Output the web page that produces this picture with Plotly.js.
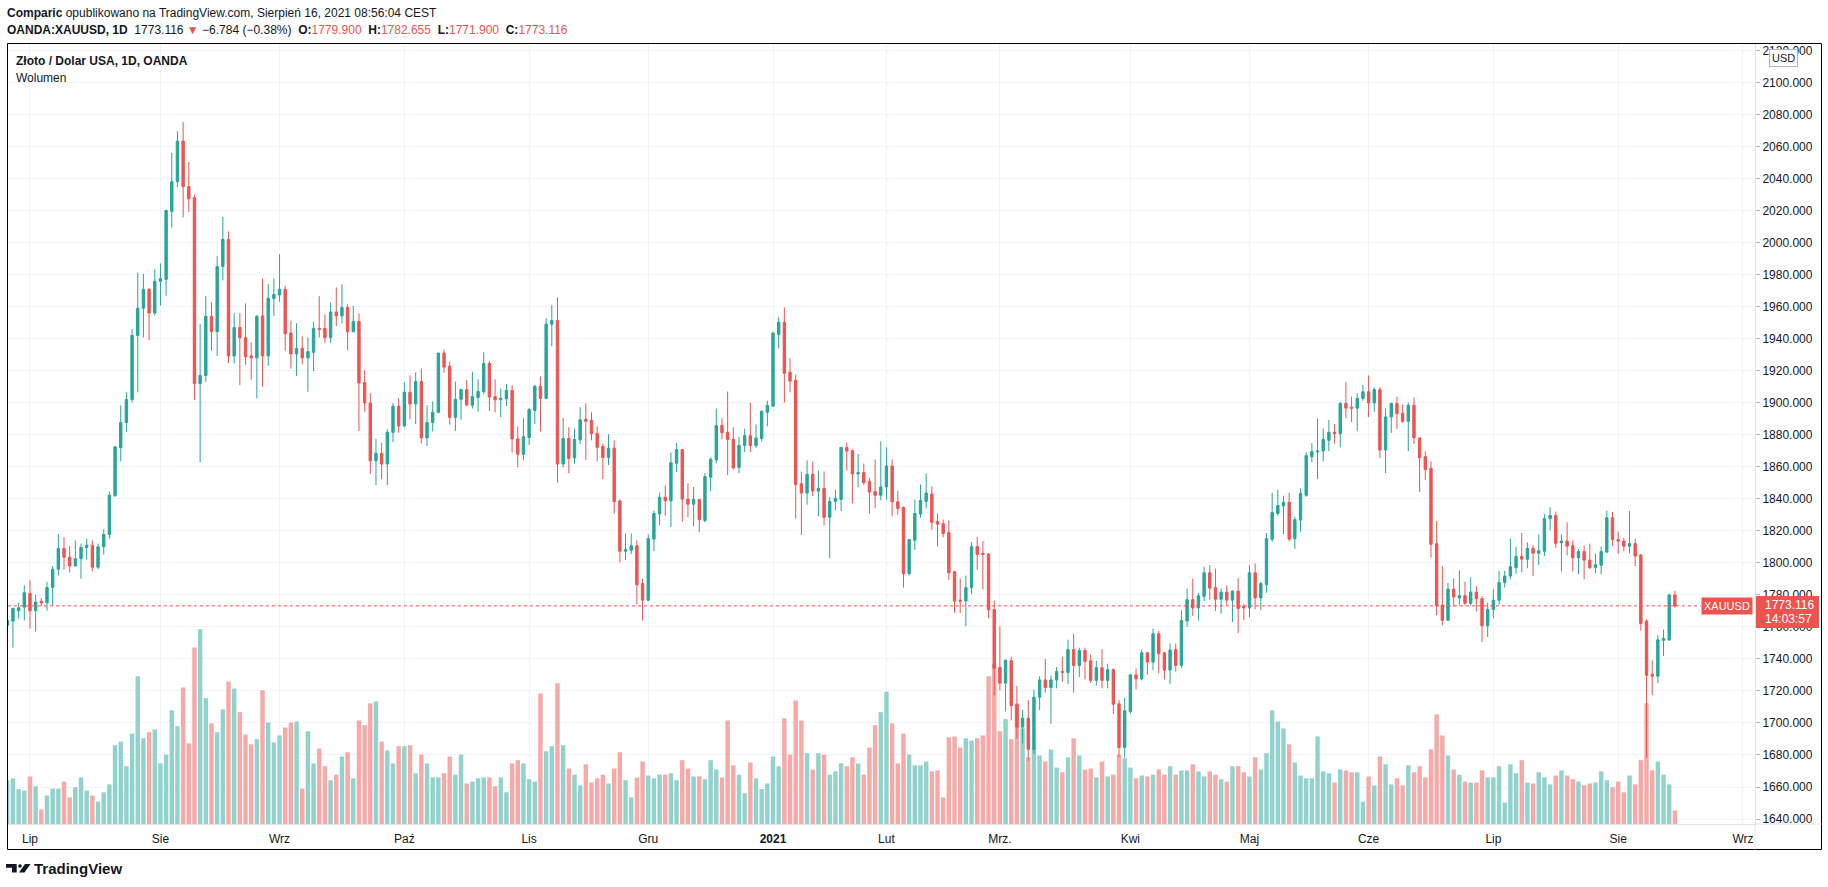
<!DOCTYPE html>
<html><head><meta charset="utf-8">
<script src="https://cdn.plot.ly/plotly-3.0.1.min.js"></script>
<style>html,body{margin:0;padding:0;background:#fff;}#chart{width:1828px;height:887px;}</style>
</head><body><div id="chart"></div>
<script>
// Trading calendar (weekdays from start, minus market holidays)
const startDate = '2020-06-25';
const holidays = ['2020-12-25', '2021-01-01', '2021-04-02'];

const open = [1761,1763.6,1770,1772.3,1781,1770,1776,1775,1784.6,1796,1809,1803.5,1798,1802.6,1809.6,1811,1797.3,1810,1817.7,1842,1872,1887.6,1902,1942,1959,1970.8,1956,1975.8,1977,2019.5,2038,2063.4,2035,2028,1912,1917,1954,1944.3,1985,2002,1929.2,1947,1940.6,1929.2,1928,
1954.2,1929.2,1965,1967.3,1970.8,1943.5,1930.4,1934,1928,1931.5,1946.4,1946.4,1940.6,1956.6,1954.2,1959.5,1944.3,1950.7,1912.6,1899.8,1863.7,1868.4,1861.7,1881.5,1897.8,1885.5,1906.5,1899.2,1913.2,1878,1887.6,1894,1931,1922.8,1890.8,1902.1,1908.2,1898.4,1903.2,1906.8,1924.5,1903.8,1901.8,1902.4,
1907.7,1877.4,1867.8,1878.2,1895.1,1910.3,1902.7,1949,1951.3,1861.7,1877.7,1865.5,1876.8,1889.6,1889,1880.9,1872.7,1865.7,1871.6,1838.7,1807.2,1807.8,1810.7,1787.1,1776.7,1814.8,1830.5,1841,1838.7,1862.2,1870.7,1839.8,1836.6,1839.5,1826.4,1853.5,1864.3,1885.8,1881.5,1877.1,1859.6,1873.3,1879.4,1873.3,
1877.7,1894,1897.8,1942.6,1950.2,1919,1914,1849.4,1843.6,1855.3,1844.8,1846.5,1828.5,1838.4,1839.5,1872.1,1870,1855.5,1856.4,1850.9,1844.5,1842.2,1847.4,1860.5,1838.1,1834.6,1793.2,1814.1,1830.5,1838.4,1843,1825.9,1824.4,1818.9,1794.4,1776.7,1776.1,1784.5,1810.1,1806,1805.5,1770.8,1734.7,1724.8,
1738.8,1711.4,1697.4,1703,1683.5,1716.1,1726.9,1722.2,1726.9,1732.1,1731.5,1745.8,1735.9,1745.2,1738.8,1726.6,1734.5,1726.6,1733.3,1712,1684.7,1707.1,1730,1727.5,1743.8,1738,1755.7,1743.8,1733,1745.8,1735.9,1763.6,1777,1771.8,1779.1,1793.8,1784.5,1777.3,1781.7,1776.7,1782.3,1772.7,1771.8,1793.8,
1778.1,1786.3,1814.8,1830.8,1835.5,1837.8,1815.1,1826.7,1842.2,1866.3,1869.2,1869.8,1876.5,1881.5,1880.6,1899.5,1897.2,1896.6,1902.7,1906.8,1899.8,1908.2,1870.4,1891.1,1899.5,1893.4,1888.4,1898.4,1878,1866.3,1859,1811.9,1773.7,1764.1,1783.6,1778.1,1779.4,1774.7,1781.7,1777.6,1760.7,1770.8,1776.7,1787.7,
1791.8,1797,1804,1802.3,1809,1806,1807.2,1827.6,1829.6,1812.5,1813.6,1810.7,1803.2,1807,1801.7,1797,1798.5,1806.7,1828.2,1814.5,1813.6,1810.4,1812,1804.9,1763.6,1730.4,1729.2,1751.6,1751.9,1779.9];

const high = [1766,1772,1775,1786,1789,1780,1778,1788,1798,1818,1816,1810.4,1814,1812,1815,1814,1812,1821,1844.5,1873,1898.4,1906.5,1946,1981.3,1980.4,1971.7,1983.4,1987,2020.6,2056,2069.5,2075.3,2050.3,2030,1949.3,1966.5,1963,1991.5,2016,2007,1955.7,1956,1962,1937.6,1954.8,
1977.5,1974,1977.5,1992.7,1973,1951.3,1949.6,1941.4,1940.8,1950.7,1966.5,1955.1,1962.7,1972,1974,1961.5,1960.6,1955.7,1920.2,1905.9,1877.4,1875,1883.5,1899.8,1902.7,1912.9,1917,1919,1921.3,1898.4,1900.7,1931,1933.3,1925.7,1913.2,1908.8,1914.1,1919.3,1914.6,1931.5,1926,1914.6,1908.8,1911.7,
1910.9,1885.2,1890.2,1896.6,1910.9,1916.4,1952.8,1961,1965.9,1890.5,1884.7,1883.8,1897.2,1899.5,1894,1885.2,1874.5,1880.3,1876.5,1839.5,1818.3,1818.3,1814,1790.1,1817.7,1832.6,1843.9,1848.3,1868.9,1874.8,1870.7,1849.7,1847.4,1839.5,1856.1,1866,1896.3,1890.2,1907,1884.7,1878.8,1883.8,1900,1886.4,
1895.2,1901.2,1944.3,1953.4,1959.5,1927.7,1917.6,1857,1864,1863.4,1857.6,1857,1841,1845.7,1872.1,1875,1870.7,1868,1862,1853.2,1864.6,1875.9,1872.1,1864.6,1845,1835.2,1815,1839.5,1848.9,1855.8,1847.7,1830.8,1827,1826.4,1795,1790.3,1792,1813,1816.3,1813.6,1806,1776.4,1760.4,1739.7,
1741.4,1723.1,1708.2,1714.4,1720.8,1729.2,1740,1729.5,1735,1741.4,1752,1755.7,1747,1747,1742.8,1738.8,1746.1,1737,1734,1714.4,1715.8,1730.7,1734,1745.8,1744.4,1758.9,1757.4,1744.4,1749.6,1749.6,1770.3,1784,1790,1781.2,1797.6,1798.5,1796.4,1784,1785.8,1782.9,1790.4,1774.2,1798.5,1799.6,
1788.2,1818.6,1843.6,1845.7,1841.9,1843.9,1828.8,1846.5,1869,1874.8,1889.9,1883.8,1889.3,1886.7,1900.4,1912.9,1903.8,1905.9,1911.2,1917,1909.7,1909.7,1896.3,1900,1903.8,1898.9,1900,1903.3,1878,1869.5,1863.4,1826.1,1797.9,1787.4,1790.3,1795.3,1788.2,1790.9,1785.5,1779.1,1775,1783.6,1795,1795,
1815.1,1810.1,1818.6,1812.8,1811,1817.7,1830.5,1834.6,1832,1817.7,1825.3,1814,1808.7,1810.7,1812,1805.8,1810.1,1832.6,1831.8,1819.5,1815.7,1832.3,1815.1,1805.5,1764.7,1739.1,1754.8,1758.3,1780.7,1782.655];

const low = [1757,1747,1765,1764,1759,1757,1773,1770,1773,1792,1795.6,1794,1798,1790,1802,1794.7,1796,1805,1815,1841,1863.4,1881.7,1900,1906.5,1940.8,1939,1954.5,1960.6,1966.8,2009.3,2034.6,2015.7,2019.2,1901.8,1862.8,1913,1932.4,1929.2,1976.4,1924.8,1924.5,1911,1923.7,1914.4,1902.7,
1910,1923,1954.2,1963,1932.4,1921.3,1916.7,1924,1906.8,1919.6,1940.8,1937.4,1937.4,1947.8,1949.6,1932.7,1944.3,1882.3,1894.3,1855.5,1848.6,1852.3,1848.6,1875.3,1881.2,1884.7,1889.6,1886.7,1874.5,1873,1882,1893.4,1918.7,1886.4,1882.3,1889.3,1897.8,1896.3,1894.3,1905.3,1894.9,1894,1891,1898,
1868.9,1859.6,1864,1873.6,1886.7,1882,1902.1,1935.3,1850,1859.6,1856,1861.9,1874.2,1864.3,1876.5,1863.4,1852.3,1861.1,1830.8,1800.2,1801.7,1805.5,1774,1764,1776.1,1807.2,1823.5,1829.4,1822.4,1856.7,1825.6,1828.5,1822.7,1819.2,1825.3,1844.8,1862,1877.1,1854.7,1858.2,1856,1869.2,1869.2,1871.8,
1875.7,1885.2,1897.8,1933.9,1900,1906.5,1827.6,1817.4,1836.3,1841.6,1829,1823.5,1802.9,1832.8,1832.3,1857.6,1837.2,1847.1,1848.6,1830.8,1834,1839,1839.3,1829,1830,1784.5,1792,1808,1828.2,1834,1820.6,1810.1,1816,1789.2,1768.8,1768.5,1760.4,1780.4,1795.6,1783.3,1765.3,1717.3,1720.2,1707.1,
1701.6,1690,1687,1676.5,1680.6,1708,1719,1699.5,1721.6,1725.7,1724.2,1719,1728.6,1727.2,1724.8,1723.4,1721.6,1721.6,1705.4,1678.8,1678.2,1705.6,1721,1726.6,1730,1733,1731,1727.2,1724.2,1732.1,1734.2,1760,1766.8,1763.9,1776.1,1777,1769.9,1768.2,1773.5,1763,1756,1764.2,1766,1771,
1770.3,1781.3,1813,1829.4,1818,1813.3,1808.7,1819.5,1841.3,1862.8,1852.3,1863.4,1869.8,1874.5,1872.1,1890.2,1887.9,1882.3,1901.2,1891,1894.3,1865.5,1856.1,1881.2,1883.5,1887.3,1869.8,1874.2,1844.2,1851.8,1803.4,1767.3,1760.9,1764.1,1772.6,1773.2,1773.5,1773.2,1769.6,1750.5,1753.7,1765.3,1774,1784.5,
1789.7,1793.2,1794.1,1796.7,1791.8,1798.5,1804.3,1820.3,1809.3,1794.7,1804.6,1794.7,1792.9,1789.7,1796.1,1793.5,1792.9,1806.1,1810.4,1805.5,1807.2,1806.1,1797.9,1757.6,1678.2,1717.3,1724.8,1741.7,1751.3,1771.9];

const close = [1764,1771.5,1772,1781.3,1770,1775.5,1775,1784.6,1796,1809,1803.5,1798,1802.6,1809.6,1811,1797.3,1810,1817.7,1842.2,1872.4,1887.6,1902,1942,1959,1970.8,1956,1975.8,1977.5,2020,2038,2063.4,2034.9,2027.3,1912,1917,1954,1944.3,1985,2002,1929.2,1947,1940.6,1928.6,1928,1954,
1929.2,1965.3,1967.6,1970.8,1943,1930.4,1934,1928,1932,1946.4,1945.8,1940.6,1956.6,1954.2,1959.5,1944.3,1950.7,1912.3,1899.8,1863.7,1868.4,1861.7,1881.5,1897.8,1885.5,1906.5,1899.2,1913.2,1878,1887.6,1894,1931,1922.2,1890.8,1902.1,1908.2,1898.6,1903.8,1907,1924.5,1903.5,1901.8,1902.7,1907.7,
1877.4,1867.8,1878.8,1895.7,1910.3,1902.7,1949,1951.3,1861.7,1877.7,1865.2,1877.1,1889.3,1888.4,1880.6,1872.1,1865.7,1871.6,1838.1,1807.2,1808.4,1810.7,1786.3,1776.7,1815.1,1830.8,1840.9,1838.7,1862.5,1870.7,1839.8,1836.6,1839.5,1827,1853.8,1864.6,1885.8,1881.2,1877.1,1859.3,1873.3,1879.4,1873.3,1878,
1894.6,1898.4,1943.5,1950.2,1918.4,1913.5,1848.9,1843.6,1855.3,1844.8,1846.5,1828.5,1838.4,1840.3,1872.1,1869.8,1855.5,1856.4,1850,1844.2,1842.2,1847.4,1860.5,1838.1,1834,1793.2,1814.5,1830.8,1838.9,1843.6,1825.3,1824.1,1818.3,1793.8,1776.1,1776.1,1784.5,1810.1,1805.2,1805.2,1770.5,1734.2,1724.8,1739.1,
1710.8,1697.4,1703,1683.5,1716.1,1726.9,1722.2,1726.9,1732.1,1731.5,1745.8,1735.9,1745.2,1738.5,1726.6,1734.5,1726.6,1733.3,1711.7,1684.7,1707.6,1730,1727.5,1743.8,1738,1755.7,1743.2,1733,1745.5,1735.9,1763.9,1777,1771.8,1779.4,1793.8,1784.2,1777.3,1781.7,1776.7,1782.3,1771.5,1771.8,1793.8,1778.1,
1787.1,1815.1,1831.4,1835.8,1837.8,1814.8,1827,1843.3,1866.9,1869.5,1869.8,1877.1,1881.5,1880.6,1899.5,1896.6,1896.6,1902.7,1906.8,1899.8,1908.2,1870.4,1891.1,1899.5,1893.1,1888.4,1898.4,1878,1865.7,1858.2,1811.6,1773.2,1764.1,1783.6,1778.7,1779.4,1774.7,1781.7,1777.6,1760.7,1770.8,1776.7,1787.7,1791.8,
1797.6,1804,1802.3,1809,1806,1807.5,1827.6,1829.6,1812.2,1813.6,1810.4,1803.2,1807,1801.7,1797,1798.8,1807,1828.2,1814.5,1813.6,1810.4,1812,1804.3,1762.1,1729.8,1729.2,1751.9,1752.8,1779.9,1773.116];

const volume = [94,98,75,72,102,81,31,61,76,76,91,57,79,100,72,61,48,68,85,169,177,124,194,317,184,197,203,130,149,244,210,293,173,379,418,270,216,197,246,306,291,240,192,171,182,
287,218,175,190,207,218,220,76,199,130,162,124,94,106,145,154,98,222,212,259,263,177,158,130,167,167,169,109,149,130,100,100,109,145,106,149,87,91,98,100,100,81,100,68,
130,137,130,96,91,280,156,167,302,169,119,106,83,128,89,98,106,87,119,154,94,57,100,134,104,98,106,106,109,94,137,119,102,102,96,137,117,100,222,126,106,66,132,98,
75,87,145,124,227,149,265,222,152,117,152,149,106,113,130,124,143,130,106,164,212,240,284,216,130,194,149,126,126,134,113,115,57,186,188,164,184,179,184,190,317,343,199,225,
182,259,205,143,164,147,134,160,121,111,143,184,147,117,119,100,134,102,106,149,141,121,98,104,102,106,117,106,124,106,115,115,128,113,102,113,106,96,91,124,124,111,102,143,
117,152,244,220,205,171,132,104,98,98,188,113,109,89,117,115,111,111,48,102,83,145,128,85,98,83,126,111,124,100,160,235,190,147,117,106,91,89,89,115,100,100,124,46,
128,109,137,89,87,111,100,85,104,115,104,96,91,83,87,89,113,94,79,91,68,104,85,137,259,115,134,106,85,29];

const monthTickDates = ['2020-07-01','2020-08-03','2020-09-01','2020-10-01','2020-11-02','2020-12-01','2021-01-04','2021-02-01','2021-03-01','2021-04-01','2021-05-03','2021-06-01','2021-07-01','2021-08-02','2021-09-01'];
const monthTickLabels = ['Lip','Sie','Wrz','Paź','Lis','Gru','<b>2021</b>','Lut','Mrz.','Kwi','Maj','Cze','Lip','Sie','Wrz'];

const UP = '#26a69a', DOWN = '#ef5350', UPV = '#92d2cc', DOWNV = '#f7a9a7';

function tradingDays(start, n, skip) {
  const out = [];
  const d = new Date(start + 'T00:00:00Z');
  while (out.length < n) {
    const wd = d.getUTCDay();
    const s = d.toISOString().slice(0, 10);
    if (wd !== 0 && wd !== 6 && skip.indexOf(s) < 0) out.push(s + ' 12:00');
    d.setUTCDate(d.getUTCDate() + 1);
  }
  return out;
}
const dates = tradingDays(startDate, close.length, holidays);
const volColors = close.map((c, i) => c >= open[i] ? UPV : DOWNV);

const n = close.length;
const last = close[n - 1], prev = close[n - 2];
const chg = last - prev, pct = chg / prev * 100;
const f3 = v => v.toFixed(3);

// pixel helpers (plot area: left 8, top 44, width 1747, height 780)
const PL = 8, PT = 44, PW = 1747, PH = 780;
const px = x => (x - PL) / PW;
const py = y => (PT + PH - y) / PH;

const red = s => '<span style="color:' + DOWN + '">' + s + '</span>';
const sp = '\u00A0';
const header2 = '<b>OANDA:XAUUSD, 1D</b>' + sp + sp + f3(last) + sp + red('\u25BC') + sp +
  (chg < 0 ? '\u2212' : '+') + Math.abs(chg).toFixed(3) + ' (' + (pct < 0 ? '\u2212' : '+') + Math.abs(pct).toFixed(2) + '%)' + sp + sp +
  '<b>O:</b>' + red(f3(open[n-1])) + sp + sp + '<b>H:</b>' + red(f3(high[n-1])) + sp + sp + '<b>L:</b>' + red(f3(low[n-1])) + sp + sp + '<b>C:</b>' + red(f3(last));

const traces = [
  { type: 'bar', x: dates, y: volume, marker: { color: volColors, line: { width: 0 } }, xaxis: 'x', yaxis: 'y', hoverinfo: 'skip' },
  { type: 'candlestick', x: dates, open: open, high: high, low: low, close: close, xaxis: 'x', yaxis: 'y2',
    increasing: { line: { color: UP, width: 1 }, fillcolor: UP },
    decreasing: { line: { color: DOWN, width: 1 }, fillcolor: DOWN },
    whiskerwidth: 0, hoverinfo: 'skip' }
];

// TradingView logo mark (paper coordinates from pixel positions)
function pathPx(pts) { return 'M' + pts.map(p => px(p[0]).toFixed(5) + ',' + py(p[1]).toFixed(5)).join(' L') + ' Z'; }

const FONT = '"Liberation Sans", Arial, sans-serif';
const layout = {
  width: 1828, height: 887,
  margin: { l: PL, r: 1828 - PL - PW, t: PT, b: 887 - PT - PH, pad: 0 },
  paper_bgcolor: '#ffffff', plot_bgcolor: '#ffffff',
  showlegend: false, hovermode: false, dragmode: false,
  bargap: 0.22, boxgap: 0.4,
  font: { family: FONT, size: 12, color: '#131722' },
  xaxis: {
    type: 'date', range: ['2020-06-25 15:00', '2021-09-03 15:00'],
    rangebreaks: [{ bounds: ['sat', 'mon'] }, { values: holidays }],
    rangeslider: { visible: false },
    tickmode: 'array', tickvals: monthTickDates.map(d => d + ' 12:00'), ticktext: monthTickLabels,
    showgrid: true, gridcolor: '#f0f3fa', gridwidth: 1, ticks: '', showline: true, linecolor: '#e0e3eb',
    zeroline: false, tickfont: { family: FONT, size: 12, color: '#131722' }, ticklabelstandoff: 4
  },
  yaxis: { range: [0, PH * 2.146], visible: false, showgrid: false, zeroline: false, fixedrange: true },
  yaxis2: {
    overlaying: 'y', side: 'right', range: [1636.9, 2124.0], tick0: 1640, dtick: 20, tickformat: '.3f',
    showgrid: true, gridcolor: '#f0f3fa', gridwidth: 1, zeroline: false,
    ticks: 'outside', ticklen: 4, tickcolor: '#b2b5be', showline: true, linecolor: '#e0e3eb',
    tickfont: { family: FONT, size: 12, color: '#131722' }
  },
  shapes: [
    { type: 'line', xref: 'paper', yref: 'y2', x0: 0, x1: px(1701), y0: last, y1: last, line: { color: DOWN, width: 1, dash: 'dot' } },
    { type: 'rect', xref: 'paper', yref: 'paper', x0: px(7.5), x1: px(1821.5), y0: py(849.5), y1: py(43.5), line: { color: '#000000', width: 1 } },
    { type: 'line', xref: 'paper', yref: 'paper', x0: 1, x1: px(1821.5), y0: 0, y1: 0, line: { color: '#e0e3eb', width: 1 } },
    { type: 'line', xref: 'paper', yref: 'paper', x0: 1, x1: 1, y0: py(849.5), y1: 0, line: { color: '#e0e3eb', width: 1 } },
    { type: 'rect', xref: 'paper', yref: 'paper', x0: px(1756), x1: px(1819), y0: py(628), y1: py(596), fillcolor: DOWN, line: { width: 0 } },
    // logo mark: T, dot, slash
    { type: 'path', xref: 'paper', yref: 'paper', path: pathPx([[6,864],[16.7,864],[16.7,872.5],[12,872.5],[12,867.8],[6,867.8]]), fillcolor: '#131722', line: { width: 0 } },
    { type: 'circle', xref: 'paper', yref: 'paper', x0: px(18.2), x1: px(21.8), y0: py(867.8), y1: py(864.2), fillcolor: '#131722', line: { width: 0 } },
    { type: 'path', xref: 'paper', yref: 'paper', path: pathPx([[25,864],[30.5,864],[24.5,872.5],[19,872.5]]), fillcolor: '#131722', line: { width: 0 } }
  ],
  annotations: [
    { xref: 'paper', yref: 'paper', x: px(5), y: py(13), xanchor: 'left', yanchor: 'middle', showarrow: false,
      text: '<b>Comparic</b> opublikowano na TradingView.com, Sierpień 16, 2021 08:56:04 CEST', font: { family: FONT, size: 12, color: '#131722' } },
    { xref: 'paper', yref: 'paper', x: px(5), y: py(30), xanchor: 'left', yanchor: 'middle', showarrow: false,
      text: header2, font: { family: FONT, size: 12, color: '#131722' } },
    { xref: 'paper', yref: 'paper', x: px(14), y: py(61), xanchor: 'left', yanchor: 'middle', showarrow: false,
      text: '<b>Złoto / Dolar USA, 1D, OANDA</b>', font: { family: FONT, size: 12, color: '#131722' } },
    { xref: 'paper', yref: 'paper', x: px(14), y: py(78), xanchor: 'left', yanchor: 'middle', showarrow: false,
      text: 'Wolumen', font: { family: FONT, size: 12, color: '#131722' } },
    { xref: 'paper', yref: 'paper', x: px(1783), y: py(58), xanchor: 'center', yanchor: 'middle', showarrow: false,
      text: 'USD', bgcolor: '#ffffff', bordercolor: '#b2b5be', borderwidth: 1, borderpad: 2, font: { family: FONT, size: 11, color: '#131722' } },
    { xref: 'paper', yref: 'y2', x: px(1753), y: last, xanchor: 'right', yanchor: 'middle', showarrow: false,
      text: 'XAUUSD', bgcolor: DOWN, borderpad: 2, font: { family: FONT, size: 11, color: '#ffffff' } },
    { xref: 'paper', yref: 'paper', x: px(1763), y: py(605), xanchor: 'left', yanchor: 'middle', showarrow: false,
      text: f3(last), font: { family: FONT, size: 12, color: '#ffffff' } },
    { xref: 'paper', yref: 'paper', x: px(1763), y: py(619), xanchor: 'left', yanchor: 'middle', showarrow: false,
      text: '14:03:57', font: { family: FONT, size: 12, color: '#ffffff' } },
    { xref: 'paper', yref: 'paper', x: px(32), y: py(868.5), xanchor: 'left', yanchor: 'middle', showarrow: false,
      text: '<b>TradingView</b>', font: { family: FONT, size: 15, color: '#131722' } }
  ]
};

Plotly.newPlot('chart', traces, layout, { staticPlot: true, displayModeBar: false });
</script>
</body></html>
